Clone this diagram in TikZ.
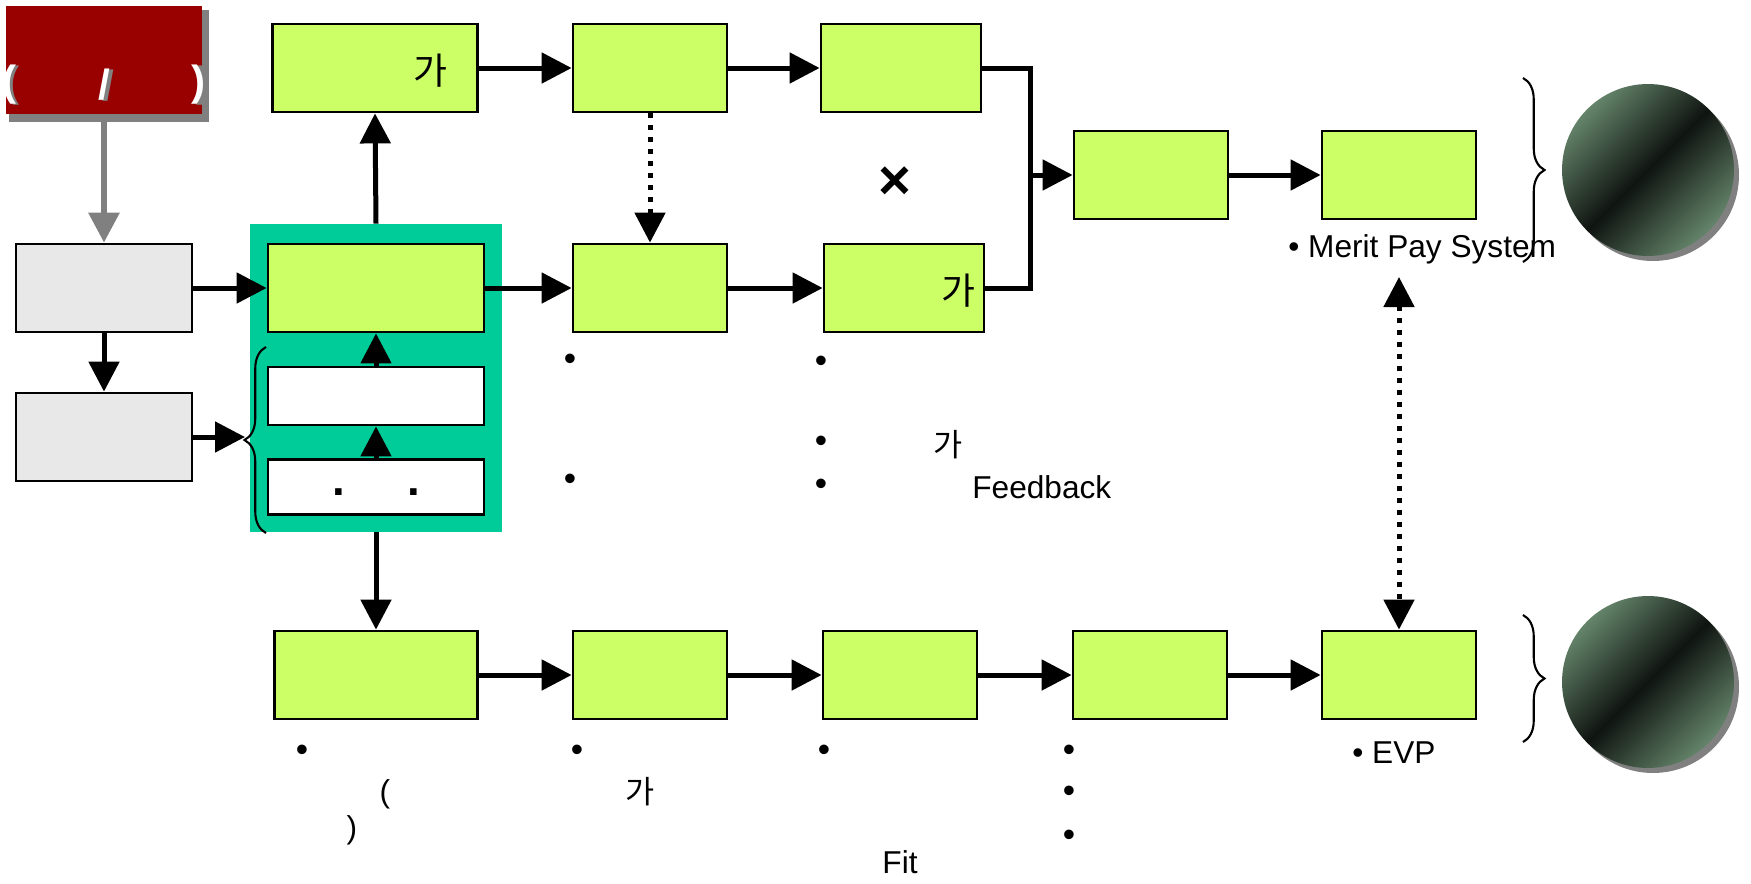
\documentclass[tikz,border=0pt]{standalone}
\usepackage{fontspec}
\setmainfont{Liberation Sans}
\newfontfamily\krfont{Noto Sans CJK KR}
\usetikzlibrary{positioning,arrows.meta,decorations.pathreplacing}
\definecolor{hrlime}{RGB}{204,255,102}
\definecolor{hrteal}{RGB}{0,204,153}
\definecolor{hrred}{RGB}{153,0,0}
\definecolor{hrgray}{RGB}{232,232,232}
\definecolor{hrshadow}{RGB}{128,128,128}
\definecolor{hrglobe}{RGB}{100,132,106}

\begin{document}
\begin{tikzpicture}[x=0.02cm,y=-0.02cm,
        font=\fontsize{18}{22}\selectfont,
        box/.style={draw,line width=1.6pt,inner sep=0pt,minimum height=1.76cm},
        limebox/.style={box,fill=hrlime,minimum width=3.08cm},
        graybox/.style={box,fill=hrgray,minimum width=3.52cm},
        whitebox/.style={box,fill=white,minimum width=4.32cm},
        flow/.style={line width=0.1cm},
        arr/.style={flow,-{Triangle[length=0.6cm,width=0.6cm]}},
        dots/.style={flow,dash pattern=on 0.1cm off 0.14cm},
        redtxt/.style={inner sep=0pt,font=\bfseries\fontsize{24}{28}\selectfont},
        hangul/.style={inner sep=0pt,font=\krfont\fontsize{21}{25}\selectfont},
        brc/.style={line width=1.2pt,decorate,decoration={brace,amplitude=0.43cm}}]
            \useasboundingbox (0,0) rectangle (1751,883);

            % source block
            \fill[hrshadow] (9,10) rectangle (209,122);
            \node[fill=hrred,inner sep=0pt,minimum width=3.92cm,minimum height=2.16cm] (src) at (104,60) {};
            \node[redtxt,text=hrshadow] (lparS) at (13,86) {(};
            \node[redtxt,text=white] (lpar) at (10,85) {(};
            \node[redtxt,text=hrshadow] (slashS) at (108,86) {/};
            \node[redtxt,text=white] (slash) at (104,85) {/};
            \node[redtxt,text=hrshadow] (rparS) at (204,86) {)};
            \node[redtxt,text=white] (rpar) at (199,85) {)};

            \node[graybox] (g1) at (104,288) {};
            \node[graybox] (g2) at (104,437) {};

            % teal panel with its stack
            \node[fill=hrteal,inner sep=0pt,minimum width=5.04cm,minimum height=6.16cm] (panel) at (376,378) {};
            \node[limebox,minimum width=4.32cm] (main) at (376,288) {};
            \node[whitebox,minimum height=1.16cm] (w1) at (376,396) {};
            \node[whitebox,minimum height=1.1cm] (w2) at (376,487) {};
            \node[inner sep=0pt,font=\bfseries\fontsize{26}{30}\selectfont] (w2dots) at (376,492) {.\hspace{1.25cm}.};
            \draw[brc] (266,533) coordinate (brcB) -- (266,347) coordinate (brcT);
            \coordinate (brcTip) at (245,437);

            % upper rows
            \node[limebox,minimum width=4.1cm] (t1) at (375,68) {};
            \node[limebox] (t2) at (650,68) {};
            \node[limebox,minimum width=3.2cm] (t3) at (901,68) {};
            \node[limebox] (m2) at (650,288) {};
            \node[limebox,minimum width=3.2cm] (m3) at (904,288) {};
            \node[limebox] (ra) at (1151,175) {};
            \node[limebox] (rb) at (1399,175) {};
            \node[hangul] (t1ga) at (430,71) {가};
            \node[hangul] (m3ga) at (958,291) {가};
            \node[inner sep=0pt,font=\bfseries\fontsize{32}{36}\selectfont] (times) at (895,183) {×};
            \coordinate (merge) at (1030,175);

            % lower row
            \node[limebox,minimum width=4.06cm] (b1) at (376,675) {};
            \node[limebox] (b2) at (650,675) {};
            \node[limebox] (b3) at (900,675) {};
            \node[limebox] (b4) at (1150,675) {};
            \node[limebox] (b5) at (1399,675) {};
            \coordinate (meritUp) at (1399,277);

            % connectors
            \draw[arr,hrshadow,line width=0.12cm] (src.south) -- (g1.north);
            \draw[arr] (g1.south) -- (g2.north);
            \draw[arr] (g1.east) -- (main.west);
            \draw[arr] (g2.east) -- (brcTip);
            \draw[arr] (w2.north) -- (w1.south);
            \draw[arr] (w1.north) -- (main.south);
            \draw[arr] (panel.north) -- (t1.south);
            \draw[arr] (panel.south) -- (b1.north);
            \draw[arr] (t1.east) -- (t2.west);
            \draw[arr] (t2.east) -- (t3.west);
            \draw[arr] (main.east) -- (m2.west);
            \draw[arr] (m2.east) -- (m3.west);
            \draw[flow] (t3.east) -| (merge);
            \draw[flow] (m3.east) -| (merge);
            \draw[arr] (merge) -- (ra.west);
            \draw[arr] (ra.east) -- (rb.west);
            \draw[arr] (b1.east) -- (b2.west);
            \draw[arr] (b2.east) -- (b3.west);
            \draw[arr] (b3.east) -- (b4.west);
            \draw[arr] (b4.east) -- (b5.west);
            \draw[dots,-{Triangle[length=0.6cm,width=0.6cm]}] (t2.south) -- (m2.north);
            \draw[dots,{Triangle[length=0.6cm,width=0.6cm]}-{Triangle[length=0.6cm,width=0.6cm]}] (meritUp) -- (b5.north);

            % outcome globes
            \draw[brc] (1523,78) coordinate (rbT) -- (1523,262) coordinate (rbB);
            \draw[brc] (1523,615) coordinate (evT) -- (1523,742) coordinate (evB);
            \foreach \gy in {170,682}{
                \fill[hrshadow] (1653,\gy+5) circle[radius=1.72cm];
                \shade[top color=hrglobe,bottom color=hrglobe,middle color=black!85!hrglobe,shading angle=45]
                    (1648,\gy) circle[radius=1.72cm];
            }

            % notes
            \node[anchor=base west,inner sep=0pt] (merit) at (1288,257) {• Merit Pay System};
            \node[anchor=base west,inner sep=0pt] (evp) at (1352,763) {• EVP};
            \node[anchor=base west,inner sep=0pt] (fb) at (972,498) {Feedback};
            \node[hangul,font=\krfont\fontsize{18}{22}\selectfont] (fbga) at (948,445) {가};
            \node[hangul,font=\krfont\fontsize{18}{22}\selectfont] (b2ga) at (640,792) {가};
            \node[inner sep=0pt] (lp) at (385,794) {(};
            \node[inner sep=0pt] (rp) at (352,830) {)};
            \node[inner sep=0pt] (fit) at (900,862) {Fit};
            \foreach \bx/\by [count=\i] in {570/362,570/482,821/364,821/444,821/487,
                302/753,577/753,824/753,1069/753,1069/794,1069/838}{
                \node[inner sep=0pt,font=\fontsize{20}{24}\selectfont] (bul\i) at (\bx,\by) {•};
            }
        \end{tikzpicture}
\end{document}
